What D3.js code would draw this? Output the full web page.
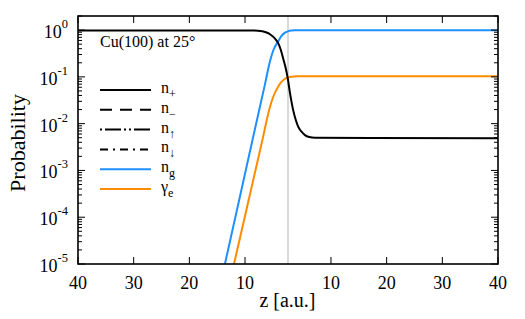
<!DOCTYPE html>
<html>
<head>
<meta charset="utf-8">
<script src="https://cdn.jsdelivr.net/npm/d3@7"></script>
</head>
<body style="margin:0">
<div id="chart"></div>
<script>
// turning point of the trajectory (closest approach), a.u.
const zMin = 2.28;
const zTicks = [10, 20, 30, 40];
const yTickExp = [0, -1, -2, -3, -4, -5];

// track coordinate: negative = incoming, positive = outgoing (|s| = z - zMin)
const nPlusS   = [-37.72, -6.5, -5.4, -4.6, -4.0, -3.4, -2.9, -2.3, -1.74, -1.3, -0.84, -0.45, -0.09, 0.36, 0.95, 1.4, 1.85, 2.4, 3.05, 3.8, 4.85, 37.72];
const nPlusV   = [0.98, 0.98, 0.97, 0.94, 0.9, 0.84, 0.76, 0.65, 0.52, 0.38, 0.24, 0.16, 0.1, 0.045, 0.019, 0.012, 0.0085, 0.0068, 0.0057, 0.0052, 0.005, 0.0049];

const nGS      = [-12.5, -11.33, -8.62, -5.93, -4.13, -3.3, -2.6, -1.74, -1.2, -0.6, 0, 0.6, 1.3, 2.2, 37.72];
const nGV      = [2.4e-6, 1e-5, 2.8e-4, 7.8e-3, 0.07, 0.2, 0.38, 0.58, 0.74, 0.87, 0.94, 0.975, 0.988, 0.99, 0.99];

const gammaS   = [-11, -9.7, -6.83, -4.67, -3.23, -2.6, -1.9, -1.3, -0.7, 0, 0.7, 1.5, 2.4, 37.72];
const gammaV   = [2.1e-6, 1e-5, 3.1e-4, 4.1e-3, 0.023, 0.039, 0.058, 0.075, 0.088, 0.097, 0.101, 0.103, 0.1035, 0.1035];

const legendItems = [
  { base: "n", sub: "+", color: "#000", dash: null },
  { base: "n", sub: "\u2212", color: "#000", dash: "12,8" },
  { base: "n", sub: "\u2191", color: "#000", dash: "2,3,16,3,2,3" },
  { base: "n", sub: "\u2193", color: "#000", dash: "8,5,2,5" },
  { base: "n", sub: "g", color: "#1e90ff", dash: null },
  { base: "\u03b3", sub: "e", color: "#ff8c00", dash: null }
];

const width = 525, height = 319;
const margin = { left: 78, right: 27, top: 16, bottom: 55 };
const iw = width - margin.left - margin.right;
const ih = height - margin.top - margin.bottom;
const FONT = "Liberation Serif";

const svg = d3.select("#chart").append("svg")
  .attr("width", width)
  .attr("height", height)
  .attr("font-family", FONT);

// every label goes through here so the serif face is set on the element itself
function label(parent, size) {
  return parent.append("text")
    .attr("font-family", FONT)
    .style("font-family", FONT)
    .attr("font-size", size)
    .style("font-size", size + "px");
}

const x = d3.scaleLinear()
  .domain([-(40 - zMin), 40 - zMin])
  .range([margin.left, margin.left + iw]);

const y = d3.scaleLog()
  .domain([1e-5, 2])
  .range([margin.top + ih, margin.top]);

svg.append("clipPath").attr("id", "clip")
  .append("rect")
  .attr("x", margin.left).attr("y", margin.top)
  .attr("width", iw).attr("height", ih);

// turning point marker
svg.append("line")
  .attr("x1", x(0)).attr("x2", x(0))
  .attr("y1", margin.top).attr("y2", margin.top + ih)
  .attr("stroke", "#b4b4b4")
  .attr("stroke-width", 1);

const line = d3.line()
  .x(d => x(d[0]))
  .y(d => y(d[1]))
  .curve(d3.curveMonotoneX);

const series = [
  { s: nGS, v: nGV, color: "#1e90ff" },
  { s: gammaS, v: gammaV, color: "#ff8c00" },
  { s: nPlusS, v: nPlusV, color: "#000" }
];

const plot = svg.append("g").attr("clip-path", "url(#clip)");
series.forEach(ser => {
  plot.append("path")
    .datum(d3.zip(ser.s, ser.v))
    .attr("d", line)
    .attr("fill", "none")
    .attr("stroke", ser.color)
    .attr("stroke-width", 2);
});

// x ticks: both legs of the trajectory
const xTickPos = [];
zTicks.forEach(z => { xTickPos.push({ z: z, s: -(z - zMin) }); xTickPos.push({ z: z, s: z - zMin }); });

const ticks = svg.append("g").attr("stroke", "#000").attr("stroke-width", 1);
xTickPos.forEach(t => {
  ticks.append("line")
    .attr("x1", x(t.s)).attr("x2", x(t.s))
    .attr("y1", margin.top + ih).attr("y2", margin.top + ih - 7);
  ticks.append("line")
    .attr("x1", x(t.s)).attr("x2", x(t.s))
    .attr("y1", margin.top).attr("y2", margin.top + 7);
  label(svg, 18)
    .attr("x", x(t.s))
    .attr("y", 289)
    .attr("text-anchor", "middle")
    .text(t.z);
});

// y ticks, log minors
y.ticks().forEach(v => {
  const major = Math.abs(Math.log10(v) - Math.round(Math.log10(v))) < 1e-6;
  const len = major ? 7 : 4;
  ticks.append("line")
    .attr("x1", margin.left).attr("x2", margin.left + len)
    .attr("y1", y(v)).attr("y2", y(v));
  ticks.append("line")
    .attr("x1", margin.left + iw).attr("x2", margin.left + iw - len)
    .attr("y1", y(v)).attr("y2", y(v));
});

yTickExp.forEach(e => {
  const t = label(svg, 18)
    .attr("x", 68)
    .attr("y", y(Math.pow(10, e)) + 8)
    .attr("text-anchor", "end");
  t.append("tspan").text("10");
  t.append("tspan")
    .attr("dy", -10)
    .style("font-size", "12.5px")
    .text(e === 0 ? "0" : "-" + Math.abs(e));
});

// frame
svg.append("rect")
  .attr("x", margin.left).attr("y", margin.top)
  .attr("width", iw).attr("height", ih)
  .attr("fill", "none")
  .attr("stroke", "#000")
  .attr("stroke-width", 1.6);

// axis titles
label(svg, 20)
  .attr("x", 287.5)
  .attr("y", 307)
  .attr("text-anchor", "middle")
  .text("z [a.u.]");

label(svg, 22)
  .attr("transform", "translate(25," + (margin.top + ih / 2 + 3) + ") rotate(-90)")
  .attr("text-anchor", "middle")
  .text("Probability");

label(svg, 16)
  .attr("x", 100)
  .attr("y", 47)
  .text("Cu(100) at 25\u00b0");

// legend
const legend = svg.append("g");
legendItems.forEach((d, i) => {
  const ly = 90 + i * 19.8;
  legend.append("line")
    .attr("x1", 100).attr("x2", 151)
    .attr("y1", ly).attr("y2", ly)
    .attr("stroke", d.color)
    .attr("stroke-width", 2)
    .attr("stroke-dasharray", d.dash);
  const t = label(legend, 16)
    .attr("x", 161)
    .attr("y", ly + 3);
  t.append("tspan").text(d.base);
  t.append("tspan")
    .attr("dy", 5)
    .style("font-size", "12px")
    .text(d.sub);
});
</script>
</body>
</html>
